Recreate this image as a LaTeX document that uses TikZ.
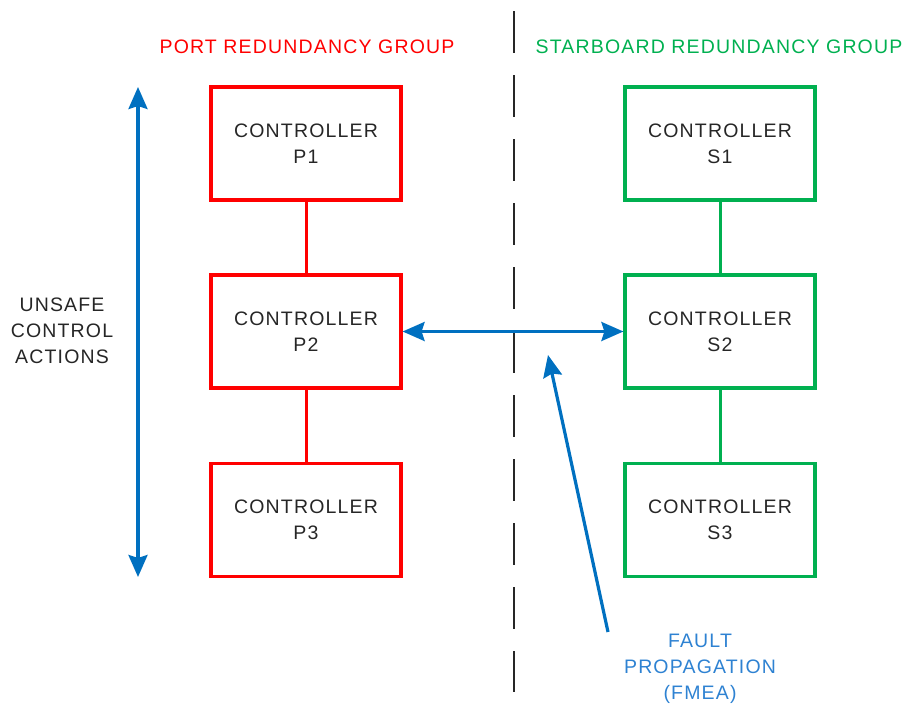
\documentclass[tikz,border=0pt]{standalone}
\usepackage{fontspec}
\setmainfont{Liberation Sans}[LetterSpace=6]
\usetikzlibrary{arrows.meta}
\definecolor{portred}{RGB}{255,0,0}
\definecolor{stbdgreen}{RGB}{0,176,80}
\definecolor{flowblue}{RGB}{0,112,192}
\definecolor{noteblue}{RGB}{46,130,210}
\definecolor{inktext}{RGB}{38,38,38}
\tikzset{
  ctrl/.style={draw, line width=3.2pt, minimum width=190pt, minimum height=113pt,
    align=center, inner sep=0pt, text=inktext, font=\fontsize{19.5}{26}\selectfont},
  portbox/.style={ctrl, draw=portred},
  stbdbox/.style={ctrl, draw=stbdgreen},
  link/.style={line width=3pt},
  flow/.style={draw=flowblue, line width=3.2pt, {Stealth[length=22pt,width=19pt,inset=3pt]}-{Stealth[length=22pt,width=19pt,inset=3pt]}},
  label/.style={align=center, font=\fontsize{19.5}{26}\selectfont, inner sep=0pt},
}
\begin{document}
\begin{tikzpicture}[x=1pt,y=-1pt]
\useasboundingbox (0,0) rectangle (905,707);

% dividing line between the two groups
\coordinate (divtop) at (514,11);
\coordinate (divbot) at (514,692);
\draw[line width=2.5pt, draw=black!85, dash pattern=on 42pt off 22pt] (divtop) -- (divbot);

% group titles
\node[label, text=portred] (porttitle) at (307,47) {PORT REDUNDANCY GROUP};
\node[label, text=stbdgreen] (stbdtitle) at (719,47) {STARBOARD REDUNDANCY GROUP};

% port controllers
\node[portbox] (p1) at (306,143.5) {CONTROLLER\\P1};
\node[portbox] (p2) at (306,331.5) {CONTROLLER\\P2};
\node[portbox] (p3) at (306,520) {CONTROLLER\\P3};
\draw[link, draw=portred] (p1) -- (p2);
\draw[link, draw=portred] (p2) -- (p3);

% starboard controllers
\node[stbdbox] (s1) at (720,143.5) {CONTROLLER\\S1};
\node[stbdbox] (s2) at (720,331.5) {CONTROLLER\\S2};
\node[stbdbox] (s3) at (720,520) {CONTROLLER\\S3};
\draw[link, draw=stbdgreen] (s1) -- (s2);
\draw[link, draw=stbdgreen] (s2) -- (s3);

% cross-group interaction
\draw[flow] (p2.east) -- (s2.west);

% unsafe control actions span
\coordinate (ucatop) at (138,87);
\coordinate (ucabot) at (138,577);
\draw[flow] (ucatop) -- (ucabot);
\node[label, text=inktext] (uca) at (62,331) {UNSAFE\\CONTROL\\ACTIONS};

% fault propagation pointer
\node[label, text=noteblue] (fault) at (700,669) {FAULT\\PROPAGATION\\(FMEA)};
\coordinate (faulttail) at (608,632);
\coordinate (faulttip) at (548,355);
\draw[draw=flowblue, line width=3.2pt, -{Stealth[length=22pt,width=19pt,inset=3pt]}] (faulttail) -- (faulttip);
\end{tikzpicture}
\end{document}
